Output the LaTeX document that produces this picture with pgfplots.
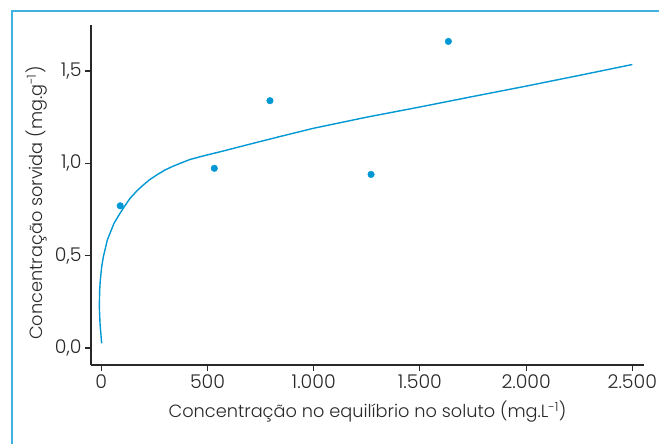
\documentclass[border=0pt]{standalone}
\usepackage{pgfplots}
\pgfplotsset{compat=1.18}
\usepackage{fontspec}
\setmainfont{Poppins}[UprightFont={* Light}]
\definecolor{cblue}{RGB}{0,152,212}
\definecolor{fblue}{RGB}{64,178,226}
\definecolor{txt}{RGB}{40,40,40}
\begin{document}
\begin{tikzpicture}[x=1bp,y=1bp]
\path[use as bounding box] (0,0) rectangle (659,444);
\draw[fblue, line width=1.6bp] (12,0) -- (12,433) -- (659,433);
\begin{axis}[
  at={(91bp,79bp)}, anchor=south west,
  scale only axis, width=553bp, height=340bp,
  xmin=-48.5, xmax=2555, ymin=-0.092, ymax=1.749,
  axis x line*=bottom, axis y line*=left,
  axis line style={line width=1.3bp, txt},
  tick style={line width=1.1bp, txt},
  tick align=outside, major tick length=6bp,
  xtick={0,500,1000,1500,2000,2500},
  ytick={0,0.5,1,1.5},
  every tick label/.append style={font=\fontsize{19}{22}\selectfont, text=txt},
  xticklabel style={/pgf/number format/.cd, 1000 sep={.}, assume math mode=true},
  yticklabel style={/pgf/number format/.cd, fixed, fixed zerofill, precision=1, use comma, assume math mode=true},
  xlabel={Concentração no equilíbrio no soluto (mg.L\textsuperscript{-1})},
  ylabel={Concentração sorvida (mg.g\textsuperscript{-1})},
  label style={font=\fontsize{17.8}{21}\selectfont, text=txt},
  xlabel style={at={(axis description cs:0.5,0)}, anchor=base, yshift=-53bp},
  ylabel style={at={(axis description cs:0,0.476)}, anchor=base, yshift=49bp},
  clip=false,
]
\addplot[cblue, line width=1.4bp, no markers, line join=round] coordinates {
(1.7,0.025) (-6.1,0.134) (-9.3,0.224) (-7.7,0.314) (-4.6,0.368) (1.7,0.440)
(9.6,0.494) (28.4,0.585) (41,0.621) (59.8,0.675) (88,0.729) (108.4,0.765)
(135,0.810) (171,0.855) (198,0.883) (226,0.910) (261,0.937) (300,0.964)
(339,0.985) (378,1.003) (418,1.021) (480,1.040) (575,1.067) (700,1.104)
(841,1.145) (1000,1.190) (1250,1.250) (1500,1.305) (1750,1.362)
(2000,1.418) (2250,1.476) (2500,1.535)
};
\addplot[only marks, mark=*, mark size=3.3bp, cblue, mark options={draw=cblue, fill=cblue}] coordinates {
(89,0.770) (532,0.973) (794,1.339) (1270,0.940) (1634,1.660)
};
\end{axis}
\end{tikzpicture}
\end{document}
